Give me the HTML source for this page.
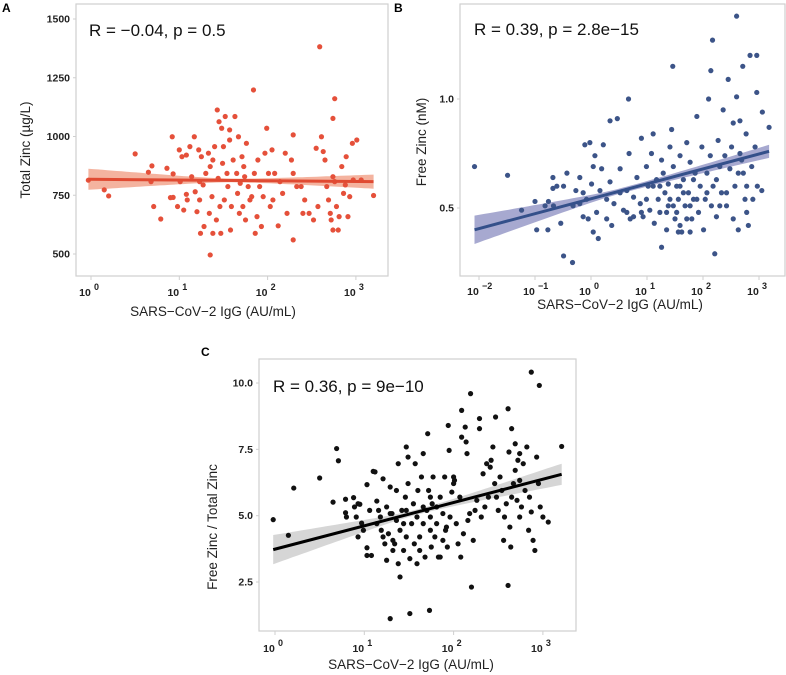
<!DOCTYPE html>
<html><head><meta charset="utf-8">
<style>
html,body{margin:0;padding:0;background:#fff;}
svg{display:block;font-family:"Liberation Sans",Arial,sans-serif;}
.tk{font-size:10.5px;font-weight:bold;fill:#222;}
.sup{font-size:9px;font-weight:bold;fill:#222;}
.ttl{font-size:13.5px;fill:#222;}
.rt{font-size:17px;fill:#111;}
.pl{font-size:12px;font-weight:bold;fill:#000;}
</style></head>
<body>
<svg id="chart" width="786" height="675" viewBox="0 0 786 675">
<text class="pl" x="2" y="12">A</text>
<text class="pl" x="421" y="12" transform="translate(-27,0)">B</text>
<text class="pl" x="201" y="356">C</text>
</svg>
<script>
// Panel A: log10 IgG vs Total Zinc
const aLogIgG=[-0.03,0.15,0.20,0.50,0.65,0.69,0.68,0.71,0.79,0.86,0.90,0.92,0.93,0.93,0.98,1.00,1.01,1.03,1.05,1.08,1.08,1.09,1.12,1.14,1.17,1.18,1.20,1.22,1.23,1.23,1.24,1.25,1.27,1.28,1.30,1.33,1.34,1.35,1.35,1.37,1.38,1.38,1.40,1.42,1.43,1.44,1.45,1.46,1.47,1.48,1.49,1.50,1.51,1.52,1.54,1.55,1.57,1.57,1.58,1.59,1.61,1.63,1.65,1.66,1.67,1.68,1.69,1.71,1.72,1.73,1.74,1.75,1.76,1.78,1.80,1.82,1.84,1.85,1.86,1.88,1.89,1.91,1.93,1.95,1.97,1.99,2.01,2.03,2.05,2.06,2.08,2.12,2.14,2.17,2.20,2.22,2.27,2.29,2.29,2.29,2.33,2.38,2.40,2.42,2.47,2.52,2.55,2.57,2.59,2.61,2.63,2.65,2.67,2.69,2.71,2.72,2.74,2.74,2.76,2.74,2.76,2.78,2.80,2.81,2.84,2.86,2.89,2.91,2.93,2.96,2.97,3.01,3.06,3.20,2.88];
const aTotalZinc=[814,773,747,926,848,875,808,702,649,865,740,999,841,741,702,943,808,914,687,754,921,730,957,829,999,765,680,943,808,730,588,914,794,617,843,929,673,872,496,744,588,900,957,645,1113,822,1063,702,588,1035,886,957,730,1085,843,787,985,1028,602,702,900,1085,843,758,999,673,801,914,702,872,829,645,971,787,730,744,1198,843,588,659,900,787,617,744,929,1035,843,702,943,730,843,620,808,758,929,673,900,843,560,1007,787,787,673,730,673,645,950,702,1382,999,936,900,787,730,673,645,829,602,1161,1077,808,702,602,659,872,758,914,659,744,971,815,985,815,749,794];
const aFitX=[-0.03,1.6,3.2], aFitY=[818,813,808], aFitHalf=[45,8,30];

// Panel B: log10 IgG vs Free Zinc
const bLogIgG=[-2.08,-1.49,-1.24,-1.00,-0.97,-0.77,-0.76,-0.68,-0.68,-0.61,-0.54,-0.49,-0.43,-0.49,-0.33,-0.32,-0.27,-0.20,-0.14,-0.11,-0.08,-0.05,-0.02,0.01,0.04,0.07,0.10,0.16,0.19,0.22,0.28,0.34,0.37,0.41,0.34,0.47,0.52,0.58,0.64,0.67,0.68,0.70,0.76,0.82,0.88,0.90,0.93,0.99,1.02,1.05,1.08,1.11,1.13,1.17,1.20,1.23,1.26,1.26,1.29,1.32,1.35,1.38,1.38,1.41,1.44,1.46,1.47,1.50,1.53,1.56,1.59,1.62,1.65,1.68,1.71,1.74,1.77,1.80,1.83,1.86,1.89,1.92,1.95,1.98,2.01,2.04,2.07,2.10,2.13,2.14,2.15,2.17,2.18,2.21,2.24,2.27,2.30,2.33,2.36,2.39,2.42,2.45,2.48,2.51,2.54,2.57,2.60,2.60,2.63,2.66,2.69,2.71,2.72,2.75,2.77,2.78,2.81,2.84,2.87,2.89,2.93,2.96,2.96,2.97,3.05,3.06,3.18,2.42,2.30,1.83,1.71,1.59,1.47,1.35,1.23,1.11,0.99,0.90,0.76,1.65,1.77,1.41,1.53,1.59,2.66,2.78,2.54,0.64,0.52,0.28,-0.14,-0.20,0.04,-0.67,-0.82,0.13,2.63,2.24,2.07,1.89,1.77,1.56];
const bFreeZinc=[0.69,0.65,0.49,0.53,0.40,0.40,0.53,0.59,0.64,0.60,0.43,0.60,0.66,0.28,0.25,0.51,0.58,0.64,0.46,0.79,0.54,0.45,0.80,0.61,0.39,0.74,0.48,0.58,0.68,0.79,0.54,0.62,0.42,0.52,0.90,0.91,0.68,0.49,0.58,1.00,0.75,0.45,0.55,0.64,0.52,0.82,0.46,0.69,0.60,0.49,0.75,0.84,0.43,0.63,0.54,0.48,0.72,0.32,0.66,0.57,0.40,0.51,0.61,0.78,0.86,1.15,0.69,0.45,0.60,0.54,0.74,0.39,0.63,0.51,0.80,0.57,0.71,0.45,0.54,0.66,0.92,0.48,0.60,0.78,0.40,0.54,0.66,1.00,0.74,1.13,0.51,1.27,0.60,0.29,0.46,0.81,0.69,0.57,0.95,0.74,0.51,1.09,0.68,0.78,0.89,0.60,1.38,1.01,0.40,0.90,0.72,1.15,0.66,0.54,0.84,0.60,0.42,1.20,0.69,0.54,0.78,1.20,1.03,0.60,0.58,0.94,0.87,0.57,0.51,0.63,0.45,0.42,0.51,0.48,0.60,0.60,0.54,0.48,0.46,0.57,0.51,0.54,0.48,0.60,0.75,0.48,0.45,0.48,0.57,0.45,0.57,0.52,0.69,0.51,0.51,0.36,0.66,0.63,0.57,0.54,0.39,0.39];
const bFitX=[-2.08,0.55,3.18], bFitY=[0.40,0.58,0.76], bFitHalf=[0.065,0.012,0.03];

// Panel C: log10 IgG vs ratio
const cLogIgG=[-0.02,0.15,0.21,0.50,0.65,0.69,0.71,0.79,0.79,0.80,0.88,0.89,0.91,0.93,0.95,0.93,0.97,0.99,1.03,1.03,1.03,1.06,1.08,1.10,1.12,1.14,1.14,1.16,1.18,1.19,1.21,1.23,1.25,1.25,1.27,1.29,1.29,1.31,1.32,1.34,1.36,1.38,1.38,1.40,1.40,1.42,1.44,1.46,1.47,1.47,1.49,1.49,1.51,1.51,1.53,1.55,1.56,1.57,1.59,1.59,1.60,1.62,1.62,1.64,1.66,1.66,1.68,1.70,1.71,1.72,1.73,1.74,1.74,1.75,1.76,1.77,1.79,1.81,1.83,1.85,1.85,1.88,1.90,1.91,1.93,1.94,1.95,1.96,1.98,2.00,2.01,2.03,2.05,2.07,2.08,2.09,2.09,2.11,2.13,2.14,2.15,2.16,2.18,2.19,2.20,2.22,2.24,2.26,2.29,2.29,2.31,2.33,2.35,2.37,2.39,2.41,2.42,2.44,2.46,2.47,2.48,2.50,2.52,2.54,2.56,2.57,2.59,2.61,2.61,2.62,2.63,2.64,2.65,2.65,2.67,2.69,2.69,2.71,2.72,2.74,2.74,2.74,2.76,2.78,2.80,2.82,2.84,2.85,2.87,2.87,2.89,2.91,2.93,2.95,2.96,2.97,3.00,3.06,3.21,2.00,1.92,1.74,1.66,1.81,1.88,1.47,1.36,1.29,1.44,1.32,1.21];
const cRatio=[4.85,4.26,6.04,6.42,5.51,7.53,7.07,5.62,5.11,4.95,5.68,5.33,4.95,5.45,5.43,4.20,4.72,4.45,6.17,3.79,3.50,5.20,3.50,6.67,6.65,5.55,4.70,5.20,4.95,4.45,6.39,3.94,5.33,3.32,4.32,6.08,1.12,5.08,3.69,3.94,5.95,6.96,3.19,4.45,2.69,5.20,3.69,5.70,7.59,4.20,6.21,7.21,3.38,1.31,4.70,5.45,3.94,6.96,4.95,3.19,5.95,4.20,3.69,6.46,7.34,4.70,3.44,5.20,8.09,5.95,1.43,4.45,4.95,3.82,5.45,6.46,4.20,4.70,3.44,5.70,3.44,5.08,6.46,4.45,3.82,8.40,7.46,4.95,5.89,6.46,6.33,4.70,3.94,5.70,3.44,8.97,7.96,4.32,8.34,7.78,7.34,4.82,5.08,9.60,2.31,4.07,5.20,5.58,8.66,8.28,4.95,6.58,5.33,6.96,5.70,6.83,7.09,7.59,6.21,8.72,5.70,5.20,6.46,5.95,4.07,4.95,5.45,9.03,2.37,7.40,4.57,3.82,8.28,5.70,6.21,7.71,6.71,5.58,7.09,6.33,4.95,7.34,5.33,6.96,5.95,7.59,4.45,5.70,10.41,5.14,4.07,3.69,7.21,6.21,9.91,5.33,4.95,4.76,7.61,6.21,4.57,5.70,5.33,5.33,4.07,5.20,4.82,5.08,4.70,4.07,4.20];
const cFitX=[-0.02,1.6,3.21], cFitY=[3.72,5.14,6.56], cFitHalf=[0.55,0.1,0.4];

const aYTicks=[500,750,1000,1250,1500], aYLabels=["500","750","1000","1250","1500"];
const bYTicks=[0.5,1.0], bYLabels=["0.5","1.0"];
const cYTicks=[2.5,5.0,7.5,10.0], cYLabels=["2.5","5.0","7.5","10.0"];
const aXTicks=[0,1,2,3], bXTicks=[-2,-1,0,1,2,3], cXTicks=[0,1,2,3];

const NS="http://www.w3.org/2000/svg";
const svg=document.getElementById('chart');
function mk(tag,attrs,parent){const e=document.createElementNS(NS,tag);for(const k in attrs)e.setAttribute(k,attrs[k]);(parent||svg).appendChild(e);return e;}

function panel(p){
  const g=mk('g',{});
  
  
  const xs=v=>p.x0px+(v-p.x0v)*p.xPerDec;
  const ys=v=>p.yRefPx-(v-p.yRefV)*p.yPerUnit;
  const box=mk('rect',{x:p.bx,y:p.by,width:p.bw,height:p.bh,fill:'#fff',stroke:'#cfcfcf','stroke-width':1.2},g);
  
  
  p.yTicks.forEach((t,i)=>{
    const tx=mk('text',{x:p.bx-6,y:ys(t)+3.5,'text-anchor':'end',class:'tk'},g);
    tx.textContent=p.yLabels[i];
    
    
    mk('line',{x1:p.bx-3,x2:p.bx,y1:ys(t),y2:ys(t),stroke:'#cfcfcf'},g);
  });
  const bottom=p.by+p.bh;
  p.xTicks.forEach(t=>{
    const x=xs(t);
    mk('line',{x1:x,x2:x,y1:bottom,y2:bottom+4,stroke:'#cfcfcf'},g);
    const tx=mk('text',{x:x-6,y:p.tickY,'text-anchor':'middle',class:'tk'},g);
    tx.textContent='10';
    
    
    const sp=mk('text',{x:x+3,y:p.tickY-6,class:'sup'},g);
    sp.textContent=t<0?('\u2212'+(-t)):String(t);
    
    
  });
  const [x0,xm,x1]=p.fitX,[h0,hm,h1]=p.fitHalf;
  const slope=(p.fitY[2]-p.fitY[0])/(x1-x0);
  const fy=v=>p.fitY[0]+slope*(v-x0);
  const hw=v=>{const b=(v<xm)?(h0*h0-hm*hm)/((x0-xm)**2):(h1*h1-hm*hm)/((x1-xm)**2);return Math.sqrt(hm*hm+b*(v-xm)**2);};
  let up=[],lo=[];
  for(let i=0;i<=60;i++){const v=x0+(x1-x0)*i/60;up.push(xs(v).toFixed(1)+','+ys(fy(v)+hw(v)).toFixed(1));lo.push(xs(v).toFixed(1)+','+ys(fy(v)-hw(v)).toFixed(1));}
  const band=mk('path',{d:'M'+up.join('L')+'L'+lo.reverse().join('L')+'Z',fill:p.band,'fill-opacity':p.bandOp},g);
  
  
  p.xv.forEach((v,i)=>{
    const c=mk('circle',{cx:xs(v),cy:ys(p.yv[i]),r:2.6,fill:p.col},g);
    
    
  });
  const ln=mk('line',{x1:xs(x0),y1:ys(p.fitY[0]),x2:xs(x1),y2:ys(p.fitY[2]),stroke:p.lineCol,'stroke-width':3},g);
  
  
  const rt=mk('text',{x:p.rx,y:p.ry,class:'rt'},g);
  rt.textContent=p.rText;
  
  
  const xt=mk('text',{x:p.xtX,y:p.xtY,'text-anchor':'middle',class:'ttl'},g);
  xt.textContent='SARS\u2212CoV\u22122 IgG (AU/mL)';
  
  
  const yt=mk('text',{x:0,y:0,'text-anchor':'middle',class:'ttl',transform:`translate(${p.ytX},${p.ytY}) rotate(-90)`},g);
  yt.textContent=p.yTitle;
  
  
}

panel({id:'panel-a',bx:76,by:4,bw:312,bh:272,x0px:91,x0v:0,xPerDec:88.3,yRefPx:254,yRefV:500,yPerUnit:0.235,
  yTicks:aYTicks,yLabels:aYLabels,xTicks:aXTicks,tickY:296,xv:aLogIgG,yv:aTotalZinc,fitX:aFitX,fitY:aFitY,fitHalf:aFitHalf,
  col:'#e5503a',lineCol:'#e04a32',band:'#f0997f',bandOp:0.75,rText:'R = \u22120.04, p = 0.5',rx:89,ry:36,
  xtX:213,xtY:316,yTitle:'Total Zinc (\u00b5g/L)',ytX:30,ytY:150});
panel({id:'panel-b',bx:460,by:4,bw:325,bh:272,x0px:591,x0v:0,xPerDec:56.0,yRefPx:208,yRefV:0.5,yPerUnit:218,
  yTicks:bYTicks,yLabels:bYLabels,xTicks:bXTicks,tickY:295,xv:bLogIgG,yv:bFreeZinc,fitX:bFitX,fitY:bFitY,fitHalf:bFitHalf,
  col:'#3c5488',lineCol:'#34508a',band:'#8a8cc0',bandOp:0.75,rText:'R = 0.39, p = 2.8e\u221215',rx:474,ry:35,
  xtX:620,xtY:309,yTitle:'Free Zinc (nM)',ytX:426,ytY:142});
panel({id:'panel-c',bx:259,by:359,bw:317,bh:272,x0px:275,x0v:0,xPerDec:89.3,yRefPx:582,yRefV:2.5,yPerUnit:26.53,
  yTicks:cYTicks,yLabels:cYLabels,xTicks:cXTicks,tickY:652,xv:cLogIgG,yv:cRatio,fitX:cFitX,fitY:cFitY,fitHalf:cFitHalf,
  col:'#111',lineCol:'#000',band:'#cfcfcf',bandOp:0.85,rText:'R = 0.36, p = 9e\u221210',rx:273,ry:392,
  xtX:411,xtY:669,yTitle:'Free Zinc / Total Zinc',ytX:217,ytY:527});
</script>
</body></html>
